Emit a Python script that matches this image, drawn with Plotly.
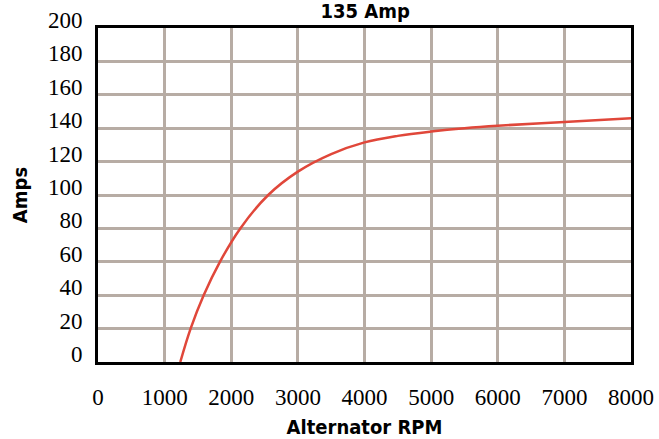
import plotly.graph_objects as go

rpm = [1235, 1390, 1586, 1830, 2136, 2555, 3000, 3500, 4000, 4500, 5000, 5500, 6000, 7000, 8000]
amps = [0, 20, 40, 60, 80, 100, 114, 124.5, 131.5, 135.4, 138, 140, 141.5, 143.7, 146]

x_ticks = [0, 1000, 2000, 3000, 4000, 5000, 6000, 7000, 8000]
y_ticks = [0, 20, 40, 60, 80, 100, 120, 140, 160, 180, 200]

title_font = dict(family="DejaVu Sans Condensed", size=20, color="black", weight="bold")
tick_font = dict(family="Liberation Serif", size=23, color="black")

fig = go.Figure()
fig.add_trace(go.Scatter(
    x=rpm, y=amps, mode="lines",
    line=dict(color="#e0473a", width=2.5, shape="spline", smoothing=1.0),
    hoverinfo="skip", showlegend=False,
))

fig.update_layout(
    width=659, height=439,
    margin=dict(l=98, r=28, t=28, b=77, autoexpand=False),
    paper_bgcolor="white", plot_bgcolor="white",
    title=dict(text="135 Amp", x=0.554, xanchor="center", y=1 - 11 / 439, yanchor="middle",
               yref="container", font=title_font),
    xaxis=dict(
        range=[0, 8000], tickvals=x_ticks, ticktext=[str(v) for v in x_ticks],
        showgrid=True, gridcolor="#b7aca4", gridwidth=3,
        showline=True, linecolor="black", linewidth=3, mirror=True,
        zeroline=False, ticks="", tickfont=tick_font, ticklabelstandoff=12,
        automargin=False, fixedrange=True,
        title=dict(text="Alternator RPM", font=title_font, standoff=20),
    ),
    yaxis=dict(
        range=[0, 200], tickvals=y_ticks, ticktext=[str(v) for v in y_ticks],
        showgrid=True, gridcolor="#b7aca4", gridwidth=3,
        showline=True, linecolor="black", linewidth=3, mirror=True,
        zeroline=False, ticks="", tickfont=tick_font, ticklabelstandoff=8,
        ticklabelshift=-8, automargin=False, fixedrange=True,
        title=dict(text="Amps", font=title_font, standoff=15),
    ),
)

fig.write_html("out.html", config={"displayModeBar": False},
               post_script="document.body.style.margin='0';")
